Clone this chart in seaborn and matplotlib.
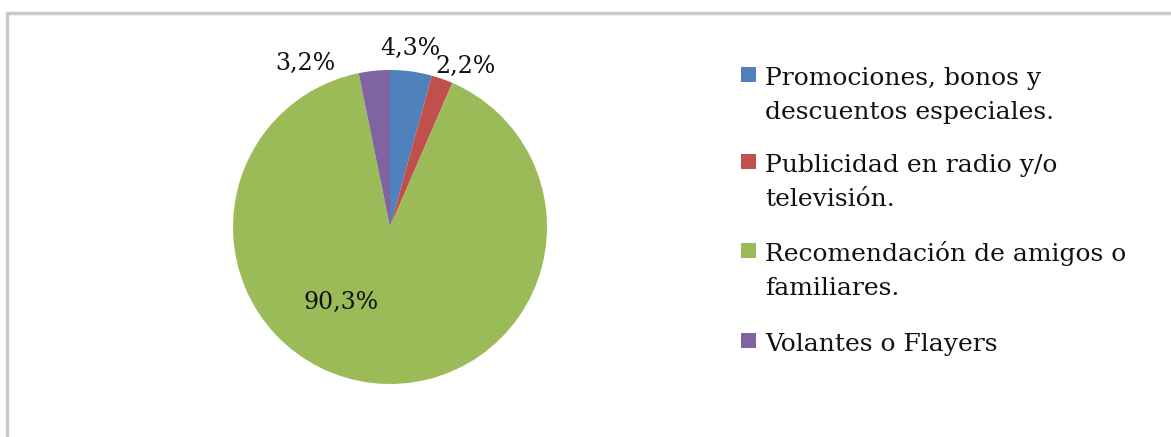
import matplotlib
matplotlib.use("Agg")
import matplotlib.pyplot as plt
import seaborn as sns
from matplotlib.patches import Rectangle

categories = [
    "Promociones, bonos y\ndescuentos especiales.",
    "Publicidad en radio y/o\ntelevisión.",
    "Recomendación de amigos o\nfamiliares.",
    "Volantes o Flayers",
]
values = [4.3, 2.2, 90.3, 3.2]
pct_labels = ["4,3%", "2,2%", "90,3%", "3,2%"]
colors = ["#4F81BD", "#C0504D", "#9BBB59", "#8064A2"]

sns.set_theme(style="white")
plt.rcParams["font.family"] = ["DejaVu Serif"]

W, H = 1171, 437
fig = plt.figure(figsize=(W / 100, H / 100), dpi=100)
fig.patch.set_facecolor("white")

# outer light border
fig.patches.append(Rectangle((7 / W, -0.2), 1.5, 1 - 13 / H + 0.2,
                             transform=fig.transFigure, fill=False,
                             edgecolor="#c9c9c9", linewidth=2.5))

cx, cy, r = 390, 227, 157
ax = fig.add_axes([(cx - r) / W, (H - cy - r) / H, 2 * r / W, 2 * r / H])
palette = sns.color_palette(colors)
wedges, _ = ax.pie(values, colors=palette, startangle=90, counterclock=False,
                   radius=1.0, wedgeprops=dict(linewidth=0))
ax.set_xlim(-1, 1)
ax.set_ylim(-1, 1)
ax.set_aspect("equal")
ax.axis("off")

label_pos = [(0.13, 1.14), (0.48, 1.02), (-0.31, -0.48), (-0.54, 1.04)]
for txt, (x, y) in zip(pct_labels, label_pos):
    ax.text(x, y, txt, ha="center", va="center", fontsize=17, color="#111111",
            clip_on=False)

# legend drawn in figure pixel coordinates (y measured from top)
first_baselines = [85, 172, 261, 351]
line_step = 34
box_x, box_size = 741, 15
text_x = 765
for wedge, label, base in zip(wedges, categories, first_baselines):
    fig.patches.append(Rectangle((box_x / W, 1 - (base - 3) / H),
                                 box_size / W, box_size / H,
                                 transform=fig.transFigure,
                                 facecolor=wedge.get_facecolor(),
                                 edgecolor="none"))
    for i, line in enumerate(label.split("\n")):
        fig.text(text_x / W, 1 - (base + i * line_step) / H, line,
                 ha="left", va="baseline", fontsize=18, color="#111111")

fig.savefig("out.png", dpi=100, facecolor="white")
